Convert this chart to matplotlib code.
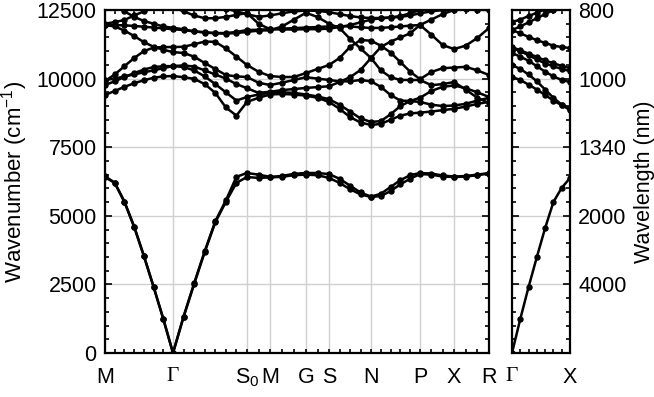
import numpy as np
import matplotlib
matplotlib.use('Agg')
import matplotlib.pyplot as plt
from matplotlib.ticker import MultipleLocator, FixedLocator

plt.rcParams['font.family'] = ['Liberation Sans', 'DejaVu Sans']
plt.rcParams['mathtext.fontset'] = 'custom'
plt.rcParams['mathtext.rm'] = 'Liberation Sans'
plt.rcParams['mathtext.it'] = 'Liberation Sans:italic'

# k-path: high symmetry labels, segment lengths and k-steps per segment
sym_labels = ['M', 'Γ', 'S$_0$', 'M', 'G', 'S', 'N', 'P', 'X', 'R']
seg_len = [68, 74, 23, 36, 23, 42, 49, 34, 35]
seg_steps = [7, 7, 2, 3, 2, 4, 5, 3, 3]

# bands along M-Γ-S0-M-G-S-N-P-X-R (cm^-1)
band_1 = [6414, 6195, 5503, 4592, 3535, 2405, 1239, 0, 1312, 2514, 3680, 4760, 5510, 6200, 6414,
          6380, 6400, 6420, 6480, 6500, 6480, 6380, 6200, 5970, 5780, 5685, 5720, 5900, 6150, 6350,
          6520, 6500, 6430, 6414, 6430, 6480, 6540]
band_2 = [6440, 6210, 5520, 4610, 3550, 2420, 1250, 0, 1330, 2540, 3710, 4800, 5560, 6420, 6560,
          6500, 6420, 6450, 6530, 6560, 6560, 6520, 6350, 6100, 5850, 5700, 5800, 6050, 6300, 6480,
          6560, 6540, 6470, 6430, 6450, 6500, 6560]
band_3 = [9402, 9550, 9700, 9830, 9940, 10030, 10080, 10094, 10050, 9990, 9800, 9480, 8950, 8650, 9150,
          9300, 9420, 9440, 9420, 9380, 9300, 9150, 8900, 8600, 8400, 8310, 8350, 8500, 8650, 8730,
          8760, 8800, 8850, 8900, 8980, 9080, 9150]
band_4 = [9766, 9900, 10060, 10200, 10330, 10420, 10450, 10458, 10420, 10300, 10080, 9800, 9500, 9200, 9330,
          9420, 9480, 9500, 9480, 9420, 9350, 9250, 9050, 8800, 8550, 8420, 8450, 8700, 9000, 9180,
          9150, 9050, 9000, 9020, 9080, 9200, 9300]
band_5 = [9912, 10150, 10450, 10750, 11000, 11130, 11150, 11150, 11160, 11250, 11350, 11340, 11100, 10800, 10495,
          10250, 10094, 10058, 10058, 10203, 10350, 10495, 10750, 11150, 11406, 11380, 11200, 10950, 10600, 10250,
          9980, 10240, 10380, 10400, 10430, 10300, 10130]
band_6 = [11953, 11900, 11750, 11550, 11330, 11160, 11050, 10968, 10932, 10800, 10568, 10350, 10130, 10080, 10058,
          9850, 9766, 9850, 9950, 10050, 10000, 9950, 9900, 9900, 9950, 9900, 9700, 9400, 9200, 9184,
          9300, 9550, 9700, 9750, 9650, 9500, 9330]
band_7 = [11953, 11950, 11940, 11920, 11890, 11860, 11830, 11800, 11770, 11720, 11690, 11660, 11660, 11700, 11770,
          11780, 11800, 11820, 11840, 11860, 11880, 11900, 11910, 11900, 11870, 11843, 11850, 11870, 11900, 11930,
          11953, 11600, 11223, 11077, 11200, 11480, 11843]
band_8 = [12000, 12060, 12135, 12300, 12450, 12600, 12650, 12600, 12450, 12300, 12200, 12200, 12250, 12320, 12390,
          12000, 11800, 11790, 11790, 11800, 11800, 11820, 11880, 11950, 12050, 12150, 12200, 12220, 12250, 12300,
          12380, 12450, 12500, 12520, 12520, 12510, 12500]
band_9 = [12900, 12700, 12450, 12250, 12100, 12000, 11900, 11850, 11800, 11720, 11680, 11650, 11640, 11660, 11700,
          11750, 11760, 11900, 12150, 12400, 12244, 12000, 11843, 11450, 11100, 10750, 10300, 10050, 9950, 9950,
          9948, 9760, 9800, 9875, 9600, 9300, 9110]
band_10 = [9948, 10000, 10080, 10150, 10230, 10300, 10380, 10458, 10480, 10440, 10300, 10150, 10000, 9800, 9650,
           9480, 9520, 9580, 9620, 9660, 9690, 9720, 9875, 10050, 10313, 10750, 11150, 11350, 11500, 11650,
           11953, 12150, 12350, 12500, 12650, 12750, 12850]
band_11 = [12900, 12900, 12900, 12900, 12900, 12900, 12900, 12850, 12800, 12750, 12700, 12650, 12550, 12450, 12350,
           12250, 12300, 12380, 12450, 12480, 12470, 12420, 12350, 12280, 12230, 12207, 12210, 12230, 12280, 12380,
           12500, 12600, 12700, 12800, 12850, 12800, 12700]
bands = [band_1, band_2, band_3, band_4, band_5, band_6, band_7, band_8, band_9, band_10, band_11]

# Γ-X panel
gx_labels = ['Γ', 'X']
gx_steps = 7
gx_1 = [0, 1239, 2405, 3498, 4555, 5503, 6020, 6377]
gx_2 = [10058, 9950, 9780, 9600, 9400, 9200, 9030, 8855]
gx_3 = [10495, 10350, 10150, 9900, 9600, 9300, 9050, 8900]
gx_4 = [10932, 10800, 10650, 10450, 10250, 10080, 9950, 9875]
gx_5 = [11114, 11000, 10850, 10700, 10550, 10450, 10350, 10276]
gx_6 = [11150, 11030, 10910, 10790, 10660, 10560, 10460, 10385]
gx_7 = [11770, 11650, 11520, 11400, 11300, 11200, 11150, 11114]
gx_8 = [11770, 11900, 12050, 12200, 12350, 12500, 12650, 12800]
gx_9 = [12062, 12150, 12280, 12400, 12520, 12650, 12750, 12850]
gx_bands = [gx_1, gx_2, gx_3, gx_4, gx_5, gx_6, gx_7, gx_8, gx_9]

wl_ticks = [12500, 10000, 7500, 5000, 2500]
wl_labels = ['800', '1000', '1340', '2000', '4000']

kpts = [0.0]
for L, n in zip(seg_len, seg_steps):
    start = kpts[-1]
    kpts += list(start + L * np.arange(1, n + 1) / n)
kpts = np.array(kpts)
ksym = np.concatenate([[0], np.cumsum(seg_len)])

fig = plt.figure(figsize=(6.54, 3.97), dpi=100)
ax = fig.add_axes([105 / 654, 44 / 397, 384 / 654, 343 / 397])
ax2 = fig.add_axes([512 / 654, 44 / 397, 58 / 654, 343 / 397])

for b in bands:
    ax.plot(kpts, b, '-o', color='k', lw=1.8, ms=3.6, zorder=3)

kx = np.arange(gx_steps + 1)
for b in gx_bands:
    ax2.plot(kx, b, '-o', color='k', lw=1.8, ms=3.6, zorder=3)

grid_kw = dict(color='#d0d0d0', lw=1.0, zorder=0)
for a in (ax, ax2):
    a.set_ylim(0, 12500)
    a.grid(True, which='major', **grid_kw)
    a.set_axisbelow(True)
    for s in a.spines.values():
        s.set_linewidth(1.6)

ax.set_xlim(0, ksym[-1])
ax.set_xticks(ksym)
ax.set_xticklabels(sym_labels)
ax.xaxis.set_minor_locator(FixedLocator(kpts))
ax.yaxis.set_major_locator(MultipleLocator(2500))
ax.yaxis.set_minor_locator(MultipleLocator(500))
ax.tick_params(axis='both', which='both', direction='in', top=True, right=True, labelsize=15.5, width=1.2)
ax.tick_params(axis='x', which='major', length=3, pad=10)
ax.tick_params(axis='x', which='minor', length=3)
ax.tick_params(axis='y', which='major', length=5, pad=6)
ax.tick_params(axis='y', which='minor', length=3)
ax.set_ylabel('Wavenumber (cm$^{-1}$)', fontsize=16)
ax.yaxis.set_label_coords(-0.195, 0.5)

ax2.set_xlim(0, gx_steps)
ax2.set_xticks([0, gx_steps])
ax2.set_xticklabels(gx_labels)
ax2.xaxis.set_minor_locator(FixedLocator(kx))
ax2.set_yticks(wl_ticks)
ax2.set_yticklabels(wl_labels)
ax2.yaxis.set_minor_locator(MultipleLocator(500))
ax2.tick_params(axis='both', which='both', direction='in', top=True, left=True, right=True,
                labelleft=False, labelright=True, labelsize=15.5, width=1.2)
ax2.tick_params(axis='x', which='both', length=3, pad=10)
ax2.tick_params(axis='y', which='major', length=5, pad=6)
ax2.tick_params(axis='y', which='minor', length=3)
ax2.yaxis.set_label_position('right')
ax2.set_ylabel('Wavelength (nm)', fontsize=15.5, rotation=90)
ax2.yaxis.set_label_coords(2.10, 0.5)

for a in (ax, ax2):
    for t in a.get_xticklabels():
        if t.get_text() == 'Γ':
            t.set_fontfamily('Liberation Serif')

fig.savefig('out.png', dpi=100)
